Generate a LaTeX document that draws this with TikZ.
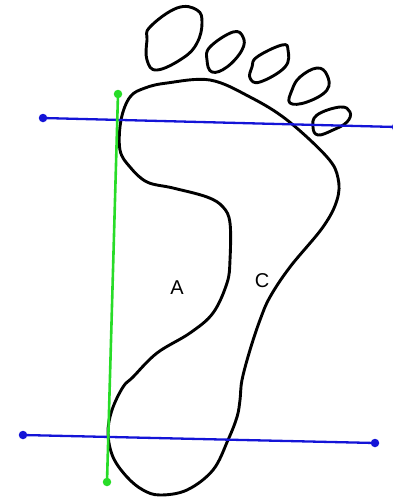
\documentclass[tikz,border=0pt]{standalone}
\usepackage{fontspec}
\setmainfont{Liberation Sans}
\definecolor{lineblue}{RGB}{20,20,215}
\definecolor{linegreen}{RGB}{40,220,40}
\begin{document}
\begin{tikzpicture}[x=1pt,y=-1pt,
  outline/.style={draw=black,line width=2.9pt,line join=round},
  blueline/.style={draw=lineblue,line width=2.3pt},
  greenline/.style={draw=linegreen,line width=2.6pt},
  bluedot/.style={circle,fill=lineblue,inner sep=0pt,minimum size=8.5pt},
  greendot/.style={circle,fill=linegreen,inner sep=0pt,minimum size=8.5pt},
  lbl/.style={font=\fontsize{20}{20}\selectfont}]
\useasboundingbox (0,0) rectangle (393,499);

% sole of the foot
\draw[outline] plot[smooth cycle,tension=0.6] coordinates {
  (121,120) (130,97) (145,88) (167,83) (210,80) (250,97) (287,120)
  (327,157) (338,178) (337,200) (323,227) (290,267) (270,297)
  (260,320) (250,350) (242,380) (240,400) (237,417) (228,440)
  (213,470) (187,490) (160,495) (143,490) (127,477) (113,457)
  (108,433) (112,410) (123,387) (133,377) (157,353) (190,333)
  (213,313) (227,283) (230,260) (230,223) (223,207) (207,197)
  (173,188) (147,182) (130,167) (120,150)};

% toes
\draw[outline] plot[smooth cycle,tension=0.7] coordinates {
  (150,27) (177,8) (197,10) (202,23) (197,43) (183,58) (157,70) (147,60) (147,40)};
\draw[outline] plot[smooth cycle,tension=0.7] coordinates {
  (210,47) (233,32) (243,37) (242,50) (227,67) (212,72) (207,60)};
\draw[outline] plot[smooth cycle,tension=0.7] coordinates {
  (257,57) (282,45) (288,50) (285,67) (260,82) (250,78) (252,67)};
\draw[outline] plot[smooth cycle,tension=0.7] coordinates {
  (300,77) (317,68) (327,75) (327,90) (307,102) (290,103) (292,90)};
\draw[outline] plot[smooth cycle,tension=0.7] coordinates {
  (317,115) (340,107) (350,112) (347,122) (333,130) (318,135) (313,127)};

% reference lines
\node[bluedot] (t1) at (43,118) {};
\node[bluedot] (t2) at (396,127) {};
\node[bluedot] (b1) at (23,435) {};
\node[bluedot] (b2) at (375,443) {};
\node[greendot] (g1) at (118,94) {};
\node[greendot] (g2) at (107,482) {};
\draw[blueline] (t1.center) -- (t2.center);
\draw[blueline] (b1.center) -- (b2.center);
\draw[greenline] (g1.center) -- (g2.center);

% region labels
\node[lbl] (A) at (177,288) {A};
\node[lbl] (C) at (262,281) {C};
\end{tikzpicture}
\end{document}
